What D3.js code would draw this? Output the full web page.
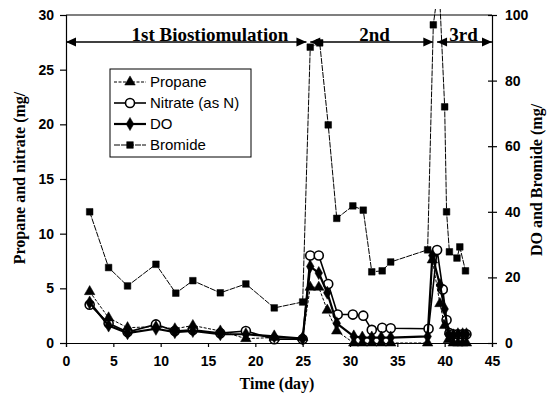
<!DOCTYPE html>
<html>
<head>
<meta charset="utf-8">
<script src="https://cdn.jsdelivr.net/npm/d3@7"></script>
<style>
  body { margin: 0; background: #fff; }
  svg { display: block; }
  .tick text { font-family: "Liberation Sans", Arial, sans-serif; font-weight: bold; font-size: 14px; fill: #000; }
  .tick line, .domain { stroke: #000; stroke-width: 1.2; }
</style>
</head>
<body>
<div id="result"></div>
<script>
// values
const propaneDays = [2.5, 4.5, 6.5, 9.5, 11.5, 13.4, 16.3, 19, 22, 25, 25.8, 26.7, 27.6, 28.6, 30.4, 31.3, 32.3, 33.3, 34.3, 38.2, 38.7, 39.5, 40, 40.4, 40.9, 41.4, 41.9, 42.3];
const propane = [4.7, 2.3, 1.4, 1.5, 1.3, 1.6, 1.1, 0.4, 0.5, 0.5, 5.1, 5.1, 3.0, 1.1, 0, 0, 0, 0, 0, 0, 7.6, 3.6, 1.6, 0.3, 0, 0, 0, 0];

const nitrateDays = [2.5, 4.5, 6.5, 9.5, 11.5, 13.4, 16.3, 19, 22, 25, 25.8, 26.7, 27.7, 28.7, 30.3, 31.4, 32.3, 33.4, 34.3, 38.3, 39.2, 39.8, 40.2, 40.5, 40.9, 41.4, 41.9, 42.3];
const nitrate = [3.5, 1.8, 1.0, 1.7, 1.1, 1.2, 0.9, 1.1, 0.35, 0.35, 8.0, 8.0, 5.4, 2.6, 2.6, 2.5, 1.2, 1.4, 1.35, 1.3, 8.5, 4.9, 2.1, 0.9, 0.8, 0.8, 0.8, 0.8];

const doDays = propaneDays;
const dissolvedO2 = [3.7, 1.6, 0.9, 1.3, 1.0, 1.1, 0.8, 0.8, 0.6, 0.4, 7.0, 6.4, 4.6, 1.8, 0.6, 0.5, 0.5, 0.5, 0.5, 0.6, 8.0, 5.3, 3.1, 0.8, 0.7, 0.8, 0.8, 0.8];

const bromideDays = [2.5, 4.5, 6.5, 9.5, 11.6, 13.4, 16.3, 19, 22, 25, 25.8, 26.8, 27.7, 28.6, 30.3, 31.4, 32.3, 33.4, 34.3, 38.2, 38.8, 39.4, 40, 40.2, 40.5, 41.3, 41.6, 42.2];
const bromide = [40, 23, 17.4, 24, 15.2, 19, 15.3, 18, 10.7, 12.5, 90.2, 91.5, 66.5, 38, 41.8, 40.5, 21.7, 22, 24.7, 28.4, 97, 110, 72, 40, 27.8, 25.9, 29.3, 22];

const xTicks = [0, 5, 10, 15, 20, 25, 30, 35, 40, 45];
const leftTicks = [0, 5, 10, 15, 20, 25, 30];
const rightTicks = [0, 20, 40, 60, 80, 100];

// stimulation phases (start day, end day, label)
const phaseStart = [0, 25.8, 39.2];
const phaseEnd = [25.4, 38.8, 45];
const phaseLabel = ['1st Biostiomulation', '2nd', '3rd'];
const phaseLabelAt = [15.2, 32.6, 42.0];

const width = 548, height = 399;
const margin = { top: 15, bottom: 56, left: 66, right: 56 };

const svg = d3.select('#result').append('svg')
  .attr('width', width)
  .attr('height', height);

const x = d3.scaleLinear().domain([0, 45]).range([margin.left, width - margin.right]);
const yL = d3.scaleLinear().domain([0, 30]).range([height - margin.bottom, margin.top]);
const yR = d3.scaleLinear().domain([0, 100]).range([height - margin.bottom, margin.top]);

// frame top
svg.append('line')
  .attr('x1', x(0)).attr('x2', x(45))
  .attr('y1', yL(30)).attr('y2', yL(30))
  .attr('stroke', '#000').attr('stroke-width', 1.2);

svg.append('g')
  .attr('transform', `translate(0,${yL(0)})`)
  .call(d3.axisBottom(x).tickValues(xTicks).tickSizeOuter(0).tickSize(4).tickPadding(9));

svg.append('g')
  .attr('transform', `translate(${x(0)},0)`)
  .call(d3.axisLeft(yL).tickValues(leftTicks).tickSizeOuter(0).tickSize(6).tickPadding(6));

const rAxis = svg.append('g')
  .attr('transform', `translate(${x(45)},0)`)
  .call(d3.axisRight(yR).tickValues(rightTicks).tickSizeOuter(0).tickSize(5).tickPadding(8));
rAxis.selectAll('.tick line').attr('x1', -4);

// axis titles
const serif = '"Liberation Serif", "Times New Roman", serif';
svg.append('text')
  .attr('transform', `translate(25,178)rotate(-90)`)
  .attr('text-anchor', 'middle')
  .style('font-family', serif).style('font-weight', 'bold').style('font-size', '16px')
  .text('Propane and nitrate (mg/');
svg.append('text')
  .attr('transform', `translate(542,180)rotate(-90)`)
  .attr('text-anchor', 'middle')
  .style('font-family', serif).style('font-weight', 'bold').style('font-size', '16px')
  .text('DO and Bromide (mg/');
svg.append('text')
  .attr('x', 277).attr('y', 389)
  .attr('text-anchor', 'middle')
  .style('font-family', serif).style('font-weight', 'bold').style('font-size', '16px')
  .text('Time (day)');

// data
svg.append('clipPath').attr('id', 'plotclip')
  .append('rect').attr('x', 0).attr('y', 9).attr('width', width).attr('height', height);

const plot = svg.append('g').attr('clip-path', 'url(#plotclip)');

const series = [
  { name: 'Bromide', days: bromideDays, vals: bromide, y: yR, sym: d3.symbolSquare, size: 44, fill: '#000', width: 1, dash: '6,1' },
  { name: 'Nitrate (as N)', days: nitrateDays, vals: nitrate, y: yL, sym: d3.symbolCircle, size: 64, fill: '#fff', width: 1.6, dash: null },
  { name: 'Propane', days: propaneDays, vals: propane, y: yL, sym: d3.symbolTriangle, size: 48, fill: '#000', width: 1, dash: '3,1.5' },
  { name: 'DO', days: doDays, vals: dissolvedO2, y: yL, sym: d3.symbolDiamond, size: 50, fill: '#000', width: 2.2, dash: null }
];

series.forEach(function(s) {
  const pts = s.days.map(function(d, i) { return [d, s.vals[i]]; });
  const line = d3.line()
    .x(function(d) { return x(d[0]); })
    .y(function(d) { return s.y(d[1]); });
  plot.append('path')
    .datum(pts)
    .attr('d', line)
    .attr('fill', 'none')
    .attr('stroke', '#000')
    .attr('stroke-width', s.width)
    .attr('stroke-dasharray', s.dash);
  plot.selectAll(null)
    .data(pts)
    .enter().append('path')
    .attr('d', d3.symbol().type(s.sym).size(s.size))
    .attr('transform', function(d) { return `translate(${x(d[0])},${s.y(d[1])})`; })
    .attr('fill', s.fill)
    .attr('stroke', '#000')
    .attr('stroke-width', s.fill === '#fff' ? 1.6 : 0.5);
});

// phase arrows
const arrowY = 42;
function head(px, dir) {
  return `M${px},${arrowY} L${px - dir * 10},${arrowY - 4.5} L${px - dir * 10},${arrowY + 4.5} Z`;
}
phaseStart.forEach(function(st, i) {
  const x1 = x(st), x2 = x(phaseEnd[i]);
  svg.append('line')
    .attr('x1', x1).attr('x2', x2)
    .attr('y1', arrowY).attr('y2', arrowY)
    .attr('stroke', '#000').attr('stroke-width', 1.6);
  svg.append('path').attr('d', head(x1, -1)).attr('fill', '#000');
  svg.append('path').attr('d', head(x2, 1)).attr('fill', '#000');
  svg.append('text')
    .attr('x', x(phaseLabelAt[i])).attr('y', arrowY - 1)
    .attr('text-anchor', 'middle')
    .style('font-family', serif).style('font-weight', 'bold').style('font-size', '19px')
    .text(phaseLabel[i]);
});

// legend
const legend = svg.append('g').attr('transform', 'translate(110,69)');
legend.append('rect')
  .attr('width', 141).attr('height', 88)
  .attr('fill', '#fff').attr('stroke', '#000').attr('stroke-width', 1);

const legendOrder = [series[2], series[1], series[3], series[0]];
legendOrder.forEach(function(s, i) {
  const ly = 13 + i * 21;
  legend.append('line')
    .attr('x1', 4).attr('x2', 36)
    .attr('y1', ly).attr('y2', ly)
    .attr('stroke', '#000')
    .attr('stroke-width', s.width)
    .attr('stroke-dasharray', s.dash);
  legend.append('path')
    .attr('d', d3.symbol().type(s.sym).size(s.size))
    .attr('transform', `translate(20,${ly})`)
    .attr('fill', s.fill)
    .attr('stroke', '#000')
    .attr('stroke-width', s.fill === '#fff' ? 1.6 : 0.5);
  legend.append('text')
    .attr('x', 40).attr('y', ly + 5)
    .style('font-family', '"Liberation Sans", Arial, sans-serif')
    .style('font-size', '15px')
    .text(s.name);
});
</script>
</body>
</html>
